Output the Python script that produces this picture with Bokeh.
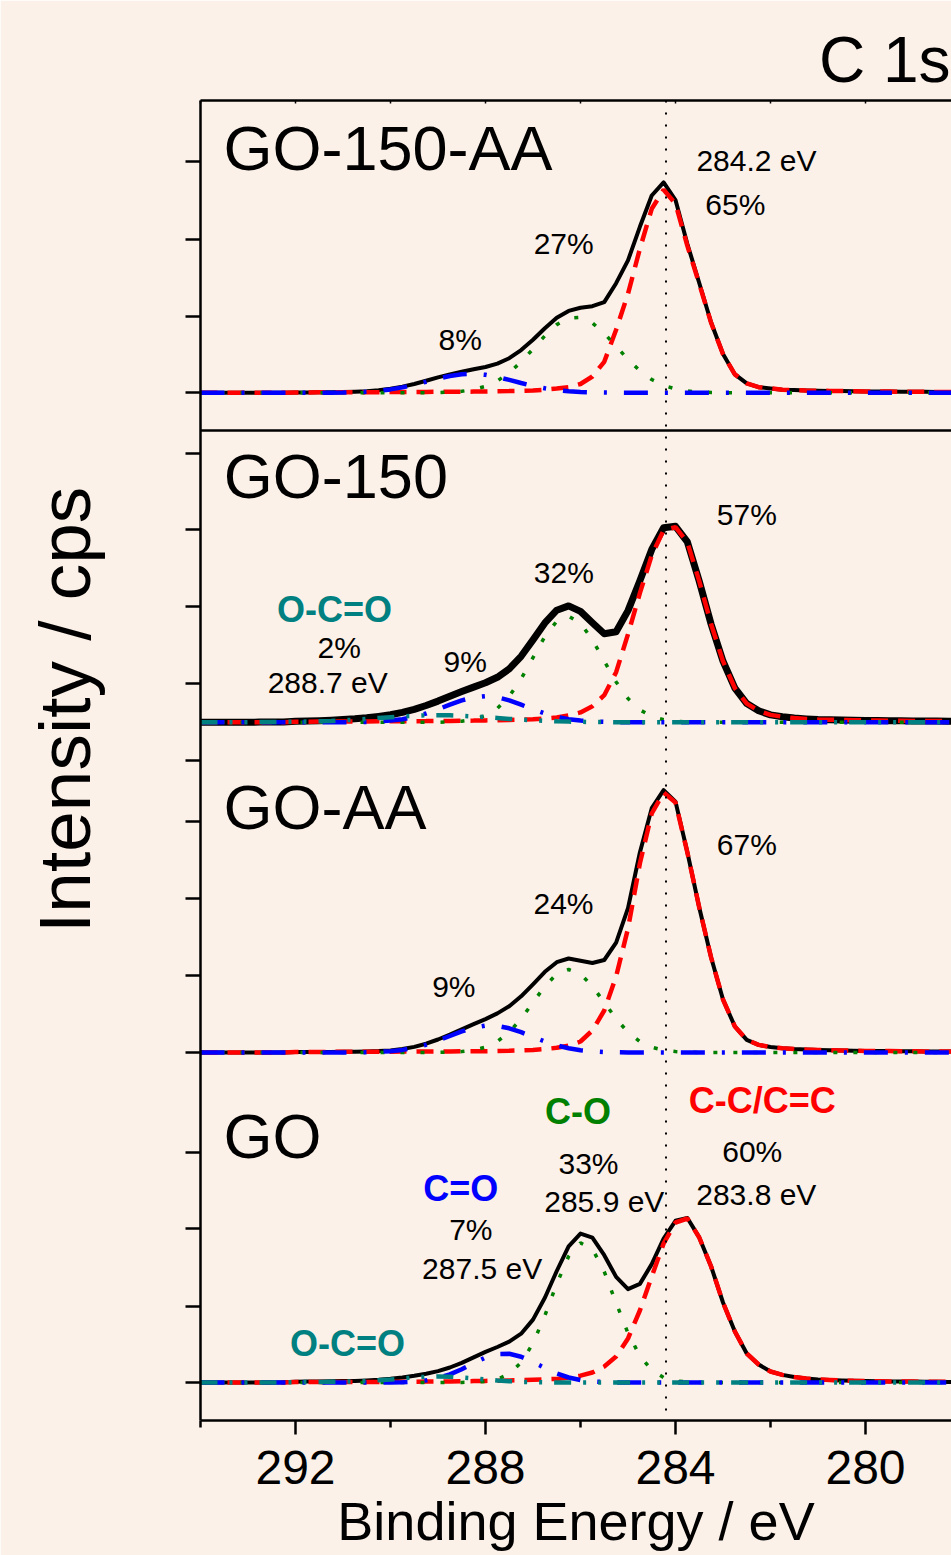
import numpy as np
from bokeh.plotting import figure
from bokeh.models import Range1d, FixedTicker, LinearAxis, Span, Label, CustomLabelingPolicy
from bokeh.embed import file_html
from bokeh.resources import INLINE

# ---------------- data ----------------
# energy sampling (eV), from high to low binding energy
E_HIGH, E_LOW, STEP = 294.0, 278.0, 0.25
energy = np.round(np.arange(E_HIGH, E_LOW - 1e-9, -STEP), 2)

# each component: start energy, then intensities every 0.25 eV downwards
# --- GO ---
GO_CC_START = 292.0
GO_CC = [0.4, 0.4, 0.4, 0.5, 0.5, 0.5, 0.6, 0.6, 0.7, 0.7, 0.8, 0.9, 1.0, 1.1, 1.2, 1.4, 1.6, 1.8, 2.1, 2.4,
         2.8, 3.2, 3.6, 4.9, 6.8, 10, 16, 26, 44, 72, 106, 139, 160, 164, 145, 116, 80, 51, 29, 18,
         11, 7.6, 5.5, 4.0, 3.0, 2.5, 2.0, 1.7, 1.5, 1.3, 1.1, 1.0, 0.9, 0.8, 0.7, 0.6, 0.6]
GO_CO_START = 289.0
GO_CO = [0, 0.1, 0.1, 0.3, 1.1, 3.3, 8.8, 19.9, 39.2, 66.9, 98.7, 126.2, 139.6, 133.7, 110.9, 79.5,
         49.4, 26.6, 12.4, 5.0, 1.7, 0.5, 0.1, 0]
GO_CEO_START = 290.0
GO_CEO = [0.1, 0.3, 0.9, 2.1, 4.4, 8.1, 13.3, 19.3, 24.9, 28.4, 28.7, 25.8, 20.5, 14.5, 9.1, 5.0, 2.5,
          1.1, 0.4, 0.1, 0]
GO_OCO_START = 292.25
GO_OCO = [0.2, 0.4, 0.5, 0.6, 0.8, 0.9, 1.1, 1.5, 2.2, 3.0, 4.1, 5.0, 5.7, 6.0, 5.7, 5.0, 4.1, 3.0, 2.0,
          1.3, 0.7, 0.4, 0.2, 0.1, 0]

# --- GO-AA ---
GOAA_CC_START = 292.0
GOAA_CC = [0.5, 0.5, 0.6, 0.6, 0.7, 0.7, 0.7, 0.8, 0.8, 0.9, 0.9, 1.0, 1.0, 1.1, 1.2, 1.3, 1.3, 1.5, 1.8, 2.2,
           2.6, 3.4, 4.7, 6.8, 11, 22, 42, 76, 124, 189, 239, 260, 250, 200, 145, 95, 53, 26, 12.6, 7.6,
           5.5, 4.2, 3.4, 2.9, 2.5, 2.2, 2.0, 1.8, 1.6, 1.5, 1.4, 1.3, 1.2, 1.1, 1.0, 1.0, 1.0]
GOAA_CO_START = 289.0
GOAA_CO = [0.1, 0.3, 0.9, 2.3, 5.3, 11.0, 20.3, 33.7, 50.0, 66.3, 78.5, 83.0, 78.5, 66.3, 50.0, 33.7,
           20.3, 11.0, 5.3, 2.3, 0.9, 0.3, 0]
GOAA_CEO_START = 290.75
GOAA_CEO = [0.1, 0.3, 0.6, 1.3, 2.6, 4.7, 7.8, 11.9, 16.5, 21.1, 24.8, 26.8, 26.6, 24.2, 20.3, 15.6,
            11.0, 7.1, 4.2, 2.3, 1.2, 0.5, 0.2, 0]

# --- GO-150 ---
GO150_CC_START = 292.0
GO150_CC = [0.5, 0.55, 0.6, 0.65, 0.7, 0.75, 0.8, 0.85, 0.9, 1.0, 1.05, 1.1, 1.2, 1.3, 1.5, 1.6, 1.8, 2.0,
            2.2, 2.5, 2.9, 3.7, 4.7, 6.7, 9.8, 16, 27, 50, 88, 129, 167, 192, 195, 180, 141, 98, 61, 34,
            18.6, 11.4, 7.3, 5.5, 4.1, 3.3, 2.7, 2.4, 2.2, 2.0, 1.8, 1.7, 1.5, 1.4, 1.3, 1.2, 1.1, 1.05, 1.0]
GO150_CO_START = 288.75
GO150_CO = [0.3, 1.0, 2.8, 6.6, 13.8, 26.0, 43.4, 64.6, 85.6, 101, 106, 99, 82.5, 61.1, 40.3, 23.6,
            12.4, 5.8, 2.4, 0.9, 0.3, 0]
GO150_CEO_START = 290.75
GO150_CEO = [0.1, 0.3, 0.8, 1.6, 3.0, 5.4, 8.7, 12.9, 17.5, 21.8, 24.9, 26.0, 24.9, 21.8, 17.5, 12.9,
             8.7, 5.4, 3.0, 1.6, 0.8, 0.3, 0.1, 0]
GO150_OCO_START = 292.75
GO150_OCO = [0.1, 0.1, 0.3, 0.4, 0.6, 0.9, 1.3, 1.9, 2.5, 3.3, 4.2, 5.0, 5.8, 6.4, 6.9, 7.0, 6.9, 6.4,
             5.8, 5.0, 4.2, 3.3, 2.5, 1.9, 1.3, 0.9, 0.6, 0.4, 0.2, 0.1, 0]

# --- GO-150-AA ---
GO150AA_CC_START = 292.0
GO150AA_CC = [0.4, 0.4, 0.45, 0.5, 0.5, 0.55, 0.6, 0.65, 0.7, 0.75, 0.8, 0.9, 1.0, 1.05, 1.1, 1.2, 1.3,
              1.5, 1.7, 2.0, 2.3, 3.1, 4.2, 5.6, 8.8, 16.3, 31, 63, 99, 144, 184, 203, 189, 147, 109, 70,
              38.7, 18.4, 9.4, 5.6, 4.4, 3.1, 2.7, 2.3, 2.1, 1.9, 1.7, 1.55, 1.4, 1.3, 1.2, 1.1, 1.0,
              0.95, 0.9, 0.85, 0.8]
GO150AA_CO_START = 289.0
GO150AA_CO = [0.25, 0.6, 1.5, 3.3, 6.5, 11.9, 20.0, 30.9, 43.8, 57.0, 68.2, 74.8, 75.5, 69.9, 59.5,
              46.5, 33.4, 22.0, 13.3, 7.4, 3.8, 1.8, 0.8, 0.3, 0.1, 0]
GO150AA_CEO_START = 291.25
GO150AA_CEO = [0.1, 0.2, 0.5, 1.0, 1.9, 3.4, 5.4, 8.0, 11.1, 14.2, 16.8, 18.5, 19.0, 18.0, 15.8, 12.9,
               9.8, 6.9, 4.5, 2.7, 1.5, 0.8, 0.4, 0.2, 0.1, 0]

# vertical offsets of the stacked spectra (intensity units)
SAMPLES = ["GO", "GO-AA", "GO-150", "GO-150-AA"]
OFFSETS = [38.0, 368.0, 698.3, 1027.7]

# left axis tick values
Y_TICKS = [38, 114.3, 191.7, 268.3, 368, 445, 522, 599, 660, 736.7, 814, 890.7, 967.3,
           1027.7, 1104.3, 1181, 1259.3]
X_TICKS = [292, 288, 284, 280]
X_MINOR = [294, 290, 286, 282, 278]
TOP_TICKS = [294, 292, 290, 288, 286, 284, 282, 280, 278]

# ---------------- styling ----------------
BG = "#fcf1e8"
FONT = "Liberation Sans"
STYLE = {
    "cc": dict(line_color="#ff0000", line_width=4.5, line_dash="17 10"),
    "co": dict(line_color="#008000", line_width=3.5, line_dash="4 16"),
    "ceo": dict(line_color="#0000ff", line_width=4.5, line_dash="24 17 3 17"),
    "oco": dict(line_color="#008080", line_width=4.5, line_dash="17 12 3 12 3 12"),
}

PX_PER_EV = 47.5
FRAME_W = 751
x_end = E_HIGH - FRAME_W / PX_PER_EV

p = figure(width=951, height=1555, x_range=Range1d(E_HIGH, x_end), y_range=Range1d(0, 1320),
           output_backend="svg", toolbar_location=None,
           min_border_left=200, min_border_right=0, min_border_top=100, min_border_bottom=135)
p.background_fill_color = BG
p.border_fill_color = BG
p.outline_line_color = None
p.xgrid.visible = False
p.ygrid.visible = False

# title "C 1s"
p.title.text = "C 1s"
p.title.align = "right"
p.title.offset = 1
p.title.text_font = FONT
p.title.text_font_size = "64px"
p.title.text_font_style = "normal"
p.title.text_color = "black"
p.title.standoff = 2


def on_grid(start, vals):
    out = np.zeros_like(energy)
    i0 = int(round((E_HIGH - start) / STEP))
    out[i0:i0 + len(vals)] = vals
    return out


panels = [
    ("GO", [("cc", GO_CC_START, GO_CC), ("co", GO_CO_START, GO_CO),
            ("ceo", GO_CEO_START, GO_CEO), ("oco", GO_OCO_START, GO_OCO)], 4),
    ("GO-AA", [("cc", GOAA_CC_START, GOAA_CC), ("co", GOAA_CO_START, GOAA_CO),
               ("ceo", GOAA_CEO_START, GOAA_CEO)], 4),
    ("GO-150", [("cc", GO150_CC_START, GO150_CC), ("co", GO150_CO_START, GO150_CO),
                ("ceo", GO150_CEO_START, GO150_CEO), ("oco", GO150_OCO_START, GO150_OCO)], 7),
    ("GO-150-AA", [("cc", GO150AA_CC_START, GO150AA_CC), ("co", GO150AA_CO_START, GO150AA_CO),
                   ("ceo", GO150AA_CEO_START, GO150AA_CEO)], 4),
]

for (name, comps, env_w), off in zip(panels, OFFSETS):
    arrays = [(kind, on_grid(s, v)) for kind, s, v in comps]
    env = np.sum([a for _, a in arrays], axis=0)
    p.line(x=energy, y=env + off, line_color="black", line_width=env_w, line_join="round")
    for kind, a in arrays:
        p.line(x=energy, y=a + off, **STYLE[kind])

# separator and reference line
p.add_layout(Span(location=990, dimension="width", line_color="black", line_width=2.5))
p.add_layout(Span(location=284.2, dimension="height", line_color="black", line_width=2,
                  line_dash="2 10"))

# policy that draws no tick labels (axes that only carry tick marks)
NO_LABELS = "for (const i of indices) { indices.unset(i) }\nreturn indices"

# axes
xa = p.xaxis[0]
xa.ticker = FixedTicker(ticks=X_TICKS, minor_ticks=X_MINOR)
xa.axis_line_width = 2.5
xa.major_tick_line_width = 2.5
xa.minor_tick_line_width = 2.5
xa.major_tick_out = 14
xa.major_tick_in = 0
xa.minor_tick_out = 7
xa.minor_tick_in = 0
xa.major_label_text_font = FONT
xa.major_label_text_font_size = "48px"
xa.major_label_text_color = "black"
xa.major_label_standoff = 16
xa.axis_label = "Binding Energy / eV"
xa.axis_label_text_font = FONT
xa.axis_label_text_font_size = "54px"
xa.axis_label_text_font_style = "normal"
xa.axis_label_text_color = "black"
xa.axis_label_standoff = 4

ya = p.yaxis[0]
ya.ticker = FixedTicker(ticks=Y_TICKS)
ya.axis_line_width = 2.5
ya.major_tick_line_width = 2.5
ya.major_tick_out = 15
ya.major_tick_in = 0
ya.minor_tick_line_color = None
ya.major_label_policy = CustomLabelingPolicy(code=NO_LABELS)
ya.major_label_text_font_size = "1px"
ya.major_label_standoff = 0
NB = "\u00a0"
ya.axis_label = NB * 5 + "Intensity / cps"
ya.axis_label_text_font = FONT
ya.axis_label_text_font_size = "73px"
ya.axis_label_text_font_style = "normal"
ya.axis_label_text_color = "black"
ya.axis_label_standoff = 74

top = LinearAxis(ticker=FixedTicker(ticks=TOP_TICKS))
top.axis_line_width = 2.5
top.major_tick_line_width = 1.5
top.major_tick_in = 3
top.major_tick_out = 0
top.minor_tick_line_color = None
top.major_label_policy = CustomLabelingPolicy(code=NO_LABELS)
top.major_label_text_font_size = "1px"
top.major_label_standoff = 0
p.add_layout(top, "above")

SHIFT = 0.41  # baseline correction, in units of font size


def lab(x, y, text, size, color="black", bold=False, align="center"):
    p.add_layout(Label(x=x, y=y + SHIFT * size, text=text, text_font=FONT,
                       text_font_size=f"{size}px", text_color=color, text_align=align,
                       text_baseline="alphabetic",
                       text_font_style="bold" if bold else "normal"))


REG = 30
BOLD = 36
BIG = 63

# sample names
lab(293.516, 1246.7, "GO-150-AA", BIG, align="left")
lab(293.509, 918.3, "GO-150", BIG, align="left")
lab(293.516, 587.5, "GO-AA", BIG, align="left")
lab(293.516, 258.3, "GO", BIG, align="left")

# GO-150-AA
lab(282.295, 1247.3, "284.2 eV", REG)
lab(282.741, 1204.0, "65%", REG)
lab(286.354, 1165.0, "27%", REG)
lab(288.533, 1068.3, "8%", REG)

# GO-150
lab(282.499, 893.3, "57%", REG)
lab(286.351, 836.0, "32%", REG)
lab(288.428, 746.7, "9%", REG)
lab(291.179, 796.0, "O-C=O", BOLD, color="#008080", bold=True)
lab(291.08, 760.7, "2%", REG)
lab(291.322, 726.0, "288.7 eV", REG)

# GO-AA
lab(282.499, 563.3, "67%", REG)
lab(286.358, 505.0, "24%", REG)
lab(288.667, 421.7, "9%", REG)

# GO
lab(286.053, 294.3, "C-O", BOLD, color="#008000", bold=True)
lab(285.832, 245.0, "33%", REG)
lab(285.499, 206.7, "285.9 eV", REG)
lab(288.52, 217.3, "C=O", BOLD, color="#0000ff", bold=True)
lab(288.309, 178.3, "7%", REG)
lab(288.07, 140.0, "287.5 eV", REG)
lab(290.905, 62.3, "O-C=O", BOLD, color="#008080", bold=True)
lab(282.175, 305.0, "C-C/C=C", BOLD, color="#ff0000", bold=True)
lab(282.385, 256.7, "60%", REG)
lab(282.299, 214.0, "283.8 eV", REG)

open("out.html", "w").write(file_html(p, INLINE))
